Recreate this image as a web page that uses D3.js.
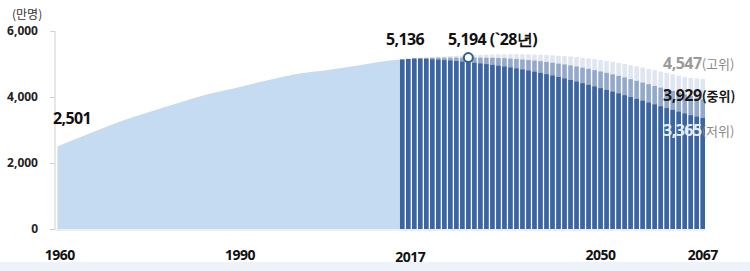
<!DOCTYPE html>
<html>
<head>
<meta charset="utf-8">
<script src="https://cdn.jsdelivr.net/npm/d3@7"></script>
<style>
  body { margin: 0; background: #fff; }
  svg { display: block; font-family: "Noto Sans CJK KR", "Noto Sans", sans-serif; }
</style>
</head>
<body>
<div id="chart-area"></div>
<script>
// Past population (만명)
const pastYears = [1960, 1965, 1970, 1975, 1980, 1985, 1990, 1995, 2000, 2005, 2010, 2015, 2017]
const pastValues = [2501, 2870, 3224, 3528, 3812, 4081, 4287, 4509, 4701, 4818, 4955, 5101, 5136]

// Projection 2017-2067
const projYears = d3.range(2017, 2068)
const lowValues = [5136, 5152, 5165, 5160, 5152, 5142, 5131, 5119, 5105, 5090, 5073, 5055, 5036, 5016, 4995, 4972, 4948,
  4922, 4895, 4866, 4835, 4802, 4767, 4730, 4691, 4650, 4607, 4562, 4515, 4467, 4418, 4368, 4318, 4267, 4215, 4162,
  4108, 4053, 3998, 3943, 3887, 3831, 3775, 3719, 3664, 3609, 3555, 3501, 3448, 3406, 3365]
const midValues = [5136, 5155, 5166, 5178, 5183, 5187, 5189, 5190, 5191, 5192, 5193, 5194, 5194, 5193, 5190, 5186, 5181,
  5175, 5163, 5150, 5135, 5120, 5104, 5086, 5062, 5038, 5012, 4985, 4957, 4924, 4889, 4852, 4814, 4774, 4731, 4687,
  4641, 4592, 4541, 4490, 4438, 4387, 4335, 4284, 4233, 4182, 4131, 4080, 4029, 3979, 3929]
const highValues = [5136, 5158, 5177, 5192, 5203, 5213, 5223, 5232, 5241, 5249, 5257, 5264, 5271, 5277, 5282, 5287, 5291,
  5294, 5295, 5296, 5294, 5291, 5286, 5280, 5272, 5263, 5252, 5240, 5227, 5210, 5191, 5170, 5147, 5122, 5095, 5066,
  5035, 5002, 4967, 4931, 4893, 4854, 4814, 4773, 4731, 4688, 4644, 4600, 4576, 4561, 4547]

const yTicks = [0, 2000, 4000, 6000]
const xLabels = [1960, 1990, 2017, 2050, 2067]
const peak = { year: 2028, value: 5194, text: '5,194 (`28년)' }

const canvas = { width: 750, height: 271 }
const numFont = '"Noto Sans", sans-serif'

const svg = d3.select('#chart-area')
  .append('svg')
    .attr('width', canvas.width)
    .attr('height', canvas.height)

// bottom strip
svg.append('rect')
  .attr('x', 0).attr('y', 262)
  .attr('width', canvas.width).attr('height', 9)
  .attr('fill', '#eef3fa')

// Scales
const x = d3.scaleLinear().domain([1960, 2067]).range([57.4, 700.5])
const y = d3.scaleLinear().domain([0, 6000]).range([229, 31])
const barW = 4.5

// past area
const past = pastYears.map((yr, i) => ({ year: yr, value: pastValues[i] }))
svg.append('path')
  .datum(past)
  .attr('fill', '#c5dbf1')
  .attr('d', d3.area()
    .curve(d3.curveMonotoneX)
    .x(d => x(d.year))
    .y0(y(0))
    .y1(d => y(d.value)))

// projection bars: high behind, low in front
const series = [
  { name: 'high', values: highValues, color: '#dfe6f0' },
  { name: 'mid', values: midValues, color: '#93a9c9' },
  { name: 'low', values: lowValues, color: '#3a65a0' }
]
series.forEach(s => {
  svg.append('g')
    .selectAll('rect')
    .data(projYears.map((yr, i) => ({ year: yr, value: s.values[i] })))
    .enter()
    .append('rect')
      .attr('x', d => x(d.year))
      .attr('width', barW)
      .attr('y', d => y(d.value))
      .attr('height', d => y(0) - y(d.value))
      .attr('fill', s.color)
})

// Axes
const yAxis = svg.append('g')
  .attr('transform', 'translate(55,0)')
  .call(d3.axisLeft(y).tickValues(yTicks).tickSize(5).tickPadding(12).tickFormat(d3.format(',')))
yAxis.select('.domain').attr('stroke', '#d0d0d0').attr('d', `M0,${y(6000)}V${y(0)}`)
yAxis.selectAll('.tick line').attr('stroke', '#d0d0d0')
yAxis.selectAll('.tick text')
  .attr('font-size', 12).attr('font-weight', 'bold').attr('fill', '#222')
  .attr('font-family', numFont)

svg.append('line')
  .attr('x1', 55).attr('x2', x(2067) + barW)
  .attr('y1', y(0) + 1).attr('y2', y(0) + 1)
  .attr('stroke', '#e0e0e0')

svg.selectAll('.xlabel')
  .data(xLabels)
  .enter()
  .append('text')
    .attr('class', 'xlabel')
    .attr('x', d => x(d) + barW / 2 + (d === 2017 ? 8 : 0))
    .attr('y', d => d === 2017 ? 262 : 260)
    .attr('text-anchor', 'middle')
    .attr('font-size', 14).attr('font-weight', 'bold').attr('fill', '#111')
    .attr('font-family', numFont)
    .attr('letter-spacing', -0.5)
    .text(d => d)

svg.append('text')
  .attr('x', 12).attr('y', 19)
  .attr('font-size', 12).attr('fill', '#333')
  .text('(만명)')

// annotations
const bold = sel => sel.attr('font-weight', 'bold').attr('font-family', numFont).attr('letter-spacing', -0.6)
svg.append('text').call(bold)
  .attr('x', 72).attr('y', y(pastValues[0]) - 22)
  .attr('text-anchor', 'middle').attr('font-size', 16).attr('fill', '#111')
  .text(d3.format(',')(pastValues[0]))

svg.append('text').call(bold)
  .attr('x', 405).attr('y', 45)
  .attr('text-anchor', 'middle').attr('font-size', 16).attr('fill', '#111')
  .text(d3.format(',')(pastValues[pastValues.length - 1]))

svg.append('text').call(bold)
  .attr('x', 448).attr('y', 45)
  .attr('font-size', 16).attr('fill', '#111')
  .text(peak.text)

svg.append('circle')
  .attr('cx', x(peak.year) + barW / 2)
  .attr('cy', y(peak.value))
  .attr('r', 4.5)
  .attr('fill', '#fff')
  .attr('stroke', '#2f5f95')
  .attr('stroke-width', 2)

const endLabels = [
  { value: highValues[50], tag: '(고위)', y: 69, numColor: '#9a9a9a', tagColor: '#8a8a8a', tagWeight: 'normal' },
  { value: midValues[50], tag: '(중위)', y: 101, numColor: '#1a1a1a', tagColor: '#1a1a1a', tagWeight: 'bold' },
  { value: lowValues[50], tag: '(저위)', y: 136, numColor: '#e4eef9', tagColor: '#8a8a8a', tagWeight: 'normal' }
]
endLabels.forEach(l => {
  const t = svg.append('text')
    .attr('x', 663).attr('y', l.y)
  t.append('tspan')
    .attr('font-size', 16).attr('font-weight', 'bold').attr('fill', l.numColor)
    .attr('font-family', numFont).attr('letter-spacing', -0.5)
    .text(d3.format(',')(l.value))
  t.append('tspan')
    .attr('font-size', 13).attr('font-weight', l.tagWeight).attr('fill', l.tagColor)
    .attr('font-family', '"Noto Sans CJK KR", sans-serif')
    .text(l.tag)
})
</script>
</body>
</html>
